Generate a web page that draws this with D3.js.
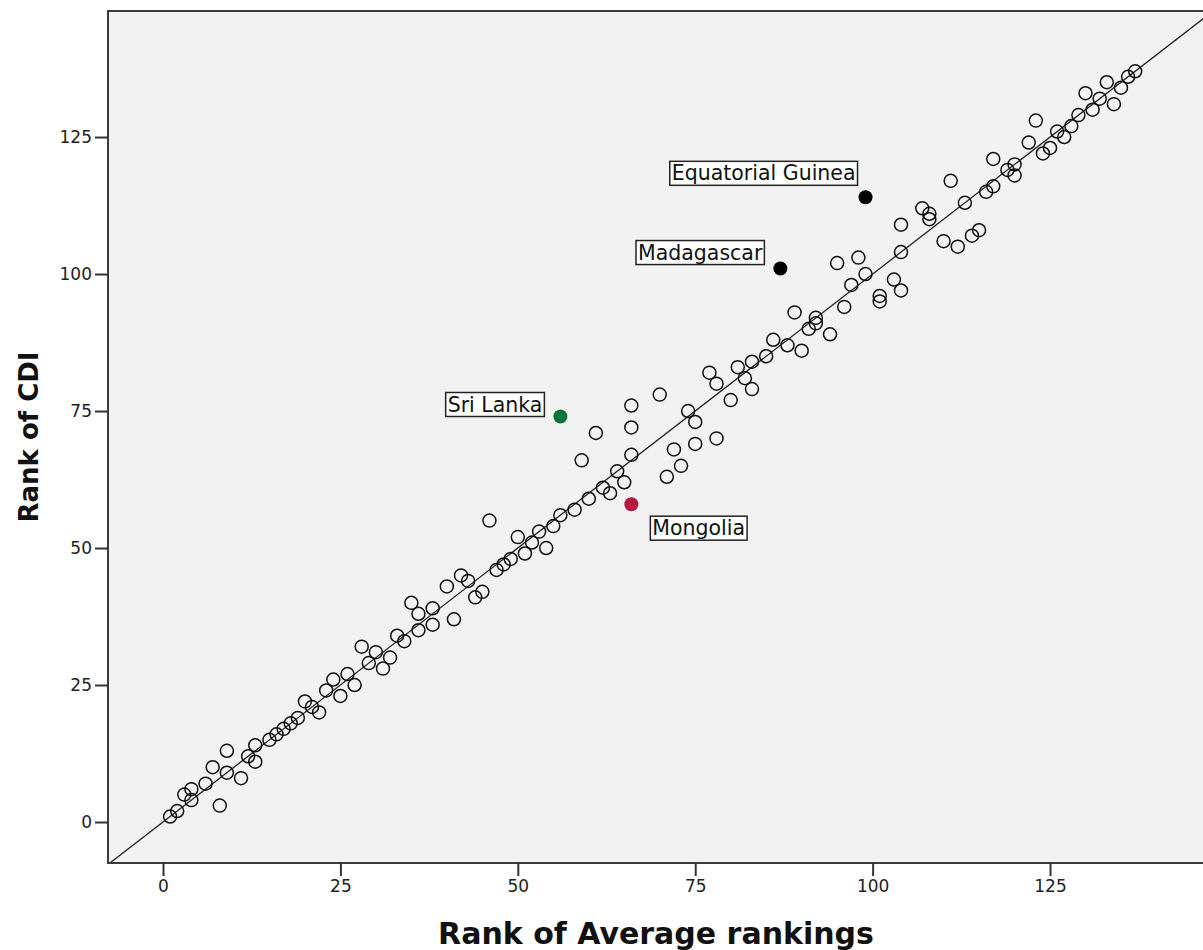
<!DOCTYPE html>
<html>
<head>
<meta charset="utf-8">
<script src="https://cdn.jsdelivr.net/npm/d3@7"></script>
<style>
  body { margin: 0; background: #fff; }
  svg { display: block; }
</style>
</head>
<body>
<div id="chart"></div>
<script>
// rank pairs (x = rank of average rankings, y = rank of CDI)
var rankAvg = [1, 2, 3, 4, 4, 6, 7, 8, 9, 9, 11, 12, 13, 13, 15, 16, 17, 18, 19, 20,
  21, 22, 23, 24, 25, 26, 27, 28, 29, 30, 31, 32, 33, 34, 35, 36, 36, 38, 38, 40,
  41, 42, 43, 44, 45, 46, 47, 48, 49, 50, 51, 52, 53, 54, 55, 56, 58, 59, 60, 61,
  62, 63, 64, 65, 66, 66, 66, 70, 71, 72, 73, 74, 75, 75, 77, 78, 78, 80, 81, 82,
  83, 83, 85, 86, 88, 89, 90, 91, 92, 92, 94, 95, 96, 97, 98, 99, 101, 101, 103, 104,
  104, 104, 107, 108, 108, 110, 111, 112, 113, 114, 115, 116, 117, 117, 119, 120, 120, 122, 123, 124,
  125, 126, 127, 128, 129, 130, 131, 132, 133, 134, 135, 136, 137];
var rankCdi = [1, 2, 5, 4, 6, 7, 10, 3, 13, 9, 8, 12, 14, 11, 15, 16, 17, 18, 19, 22,
  21, 20, 24, 26, 23, 27, 25, 32, 29, 31, 28, 30, 34, 33, 40, 38, 35, 39, 36, 43,
  37, 45, 44, 41, 42, 55, 46, 47, 48, 52, 49, 51, 53, 50, 54, 56, 57, 66, 59, 71,
  61, 60, 64, 62, 67, 72, 76, 78, 63, 68, 65, 75, 73, 69, 82, 80, 70, 77, 83, 81,
  84, 79, 85, 88, 87, 93, 86, 90, 92, 91, 89, 102, 94, 98, 103, 100, 96, 95, 99, 109,
  104, 97, 112, 111, 110, 106, 117, 105, 113, 107, 108, 115, 121, 116, 119, 120, 118, 124, 128, 122,
  123, 126, 125, 127, 129, 133, 130, 132, 135, 131, 134, 136, 137];

// labelled countries
var highlightNames = ["Equatorial Guinea", "Madagascar", "Sri Lanka", "Mongolia"];
var highlightAvg = [99, 87, 56, 66];
var highlightCdi = [114, 101, 74, 58];
var highlightColors = ["#000000", "#000000", "#08743c", "#b5173e"];

var xTicks = [0, 25, 50, 75, 100, 125];
var yTicks = [0, 25, 50, 75, 100, 125];

var width = 1203, height = 950;
var plot = {left: 108, top: 11, right: 1206, bottom: 863};

var svg = d3.select("#chart")
  .append("svg")
  .attr("width", width)
  .attr("height", height)
  .style("font-family", "'DejaVu Sans', sans-serif");

var x = d3.scaleLinear()
  .domain([-7.75, 146.98])
  .range([plot.left, plot.right]);

var y = d3.scaleLinear()
  .domain([-7.48, 148])
  .range([plot.bottom, plot.top]);

// plot background
svg.append("rect")
  .attr("x", plot.left)
  .attr("y", plot.top)
  .attr("width", plot.right - plot.left)
  .attr("height", plot.bottom - plot.top)
  .attr("fill", "#f2f2f2");

svg.append("clipPath")
  .attr("id", "clip")
  .append("rect")
  .attr("x", plot.left)
  .attr("y", plot.top)
  .attr("width", plot.right - plot.left)
  .attr("height", plot.bottom - plot.top);

var inner = svg.append("g").attr("clip-path", "url(#clip)");

// reference line y = x
inner.append("path")
  .datum([-10, 160])
  .attr("fill", "none")
  .attr("stroke", "#222")
  .attr("stroke-width", 1.3)
  .attr("d", d3.line()
    .x(function(d) { return x(d); })
    .y(function(d) { return y(d); }));

// open circles
inner.append("g")
  .selectAll("circle")
  .data(d3.range(rankAvg.length))
  .enter()
  .append("circle")
  .attr("cx", function(i) { return x(rankAvg[i]); })
  .attr("cy", function(i) { return y(rankCdi[i]); })
  .attr("r", 6.5)
  .attr("fill", "none")
  .attr("stroke", "#111")
  .attr("stroke-width", 1.5);

// filled, labelled points
inner.append("g")
  .selectAll("circle")
  .data(d3.range(highlightNames.length))
  .enter()
  .append("circle")
  .attr("cx", function(i) { return x(highlightAvg[i]); })
  .attr("cy", function(i) { return y(highlightCdi[i]); })
  .attr("r", 7)
  .attr("fill", function(i) { return highlightColors[i]; });

// label boxes, placed relative to their point (right/left edge and top of box)
var labelPlace = {
  "Equatorial Guinea": {side: "left", dx: -8, dy: -36},
  "Madagascar": {side: "left", dx: -16, dy: -28},
  "Sri Lanka": {side: "left", dx: -16, dy: -24},
  "Mongolia": {side: "right", dx: 19, dy: 12}
};

highlightNames.forEach(function(name, i) {
  var px = x(highlightAvg[i]), py = y(highlightCdi[i]);
  var p = labelPlace[name];
  var g = svg.append("g");
  var box = g.append("rect")
    .attr("fill", "#fff")
    .attr("stroke", "#222")
    .attr("stroke-width", 1.5);
  var t = g.append("text")
    .attr("font-size", "20.5px")
    .attr("fill", "#111")
    .text(name);
  var w = t.node().getComputedTextLength() + 4;
  var bx = p.side === "left" ? px + p.dx - w : px + p.dx;
  var by = py + p.dy;
  box.attr("x", bx).attr("y", by).attr("width", w).attr("height", 24);
  t.attr("x", bx + 2).attr("y", by + 19);
});

// border
svg.append("rect")
  .attr("x", plot.left)
  .attr("y", plot.top)
  .attr("width", plot.right - plot.left)
  .attr("height", plot.bottom - plot.top)
  .attr("fill", "none")
  .attr("stroke", "#3c3c3c")
  .attr("stroke-width", 2);

// axes
var xAxis = svg.append("g")
  .attr("transform", "translate(0," + plot.bottom + ")")
  .call(d3.axisBottom(x).tickValues(xTicks).tickSize(13).tickPadding(4));
var yAxis = svg.append("g")
  .attr("transform", "translate(" + plot.left + ",0)")
  .call(d3.axisLeft(y).tickValues(yTicks).tickSize(13).tickPadding(3));

[xAxis, yAxis].forEach(function(a) {
  a.select(".domain").remove();
  a.selectAll(".tick line").attr("stroke", "#333").attr("stroke-width", 2);
  a.selectAll(".tick text")
    .attr("fill", "#222")
    .style("font-size", "17px")
    .style("font-family", "'DejaVu Sans', sans-serif");
});

// axis titles
svg.append("text")
  .attr("x", 656)
  .attr("y", 944)
  .attr("text-anchor", "middle")
  .attr("font-weight", "bold")
  .style("font-size", "30px")
  .attr("fill", "#111")
  .text("Rank of Average rankings");

svg.append("text")
  .attr("transform", "translate(38,437) rotate(-90)")
  .attr("text-anchor", "middle")
  .attr("font-weight", "bold")
  .style("font-size", "26px")
  .attr("fill", "#111")
  .text("Rank of CDI");
</script>
</body>
</html>
